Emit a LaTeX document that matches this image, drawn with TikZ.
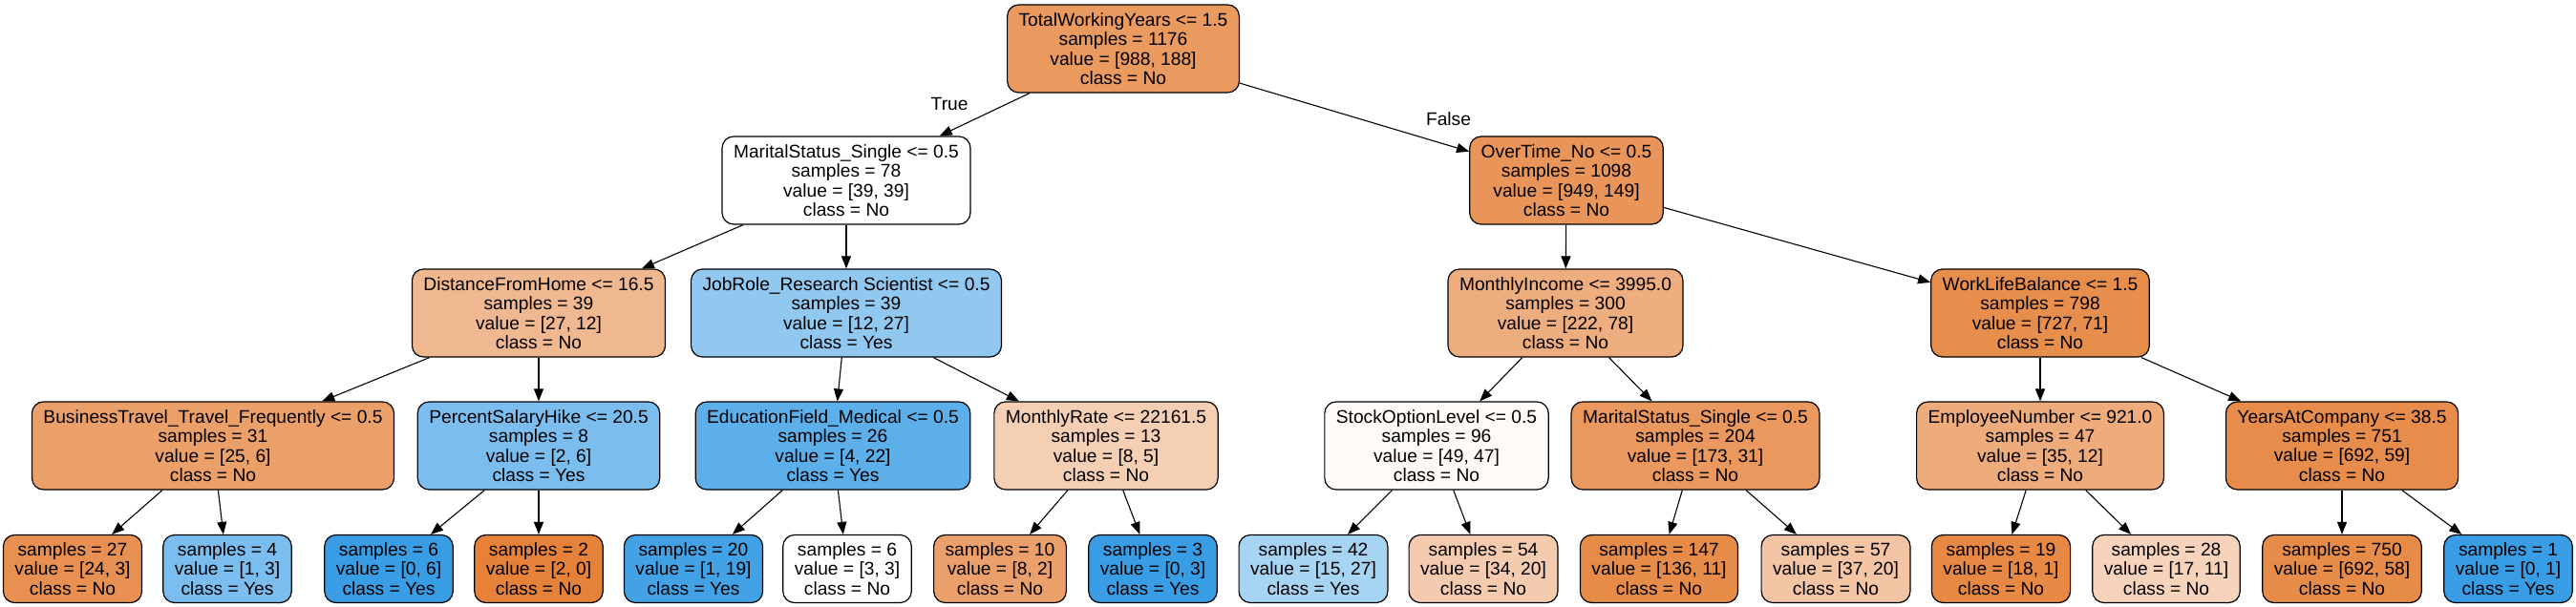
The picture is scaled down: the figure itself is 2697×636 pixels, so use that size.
\documentclass[tikz,border=0pt]{standalone}
\usepackage{fontspec}
\setmainfont{Liberation Sans}
\usetikzlibrary{arrows.meta}

\definecolor{clsno}{HTML}{E58139}
\definecolor{clsyes}{HTML}{399DE5}

\tikzset{
  split/.style={draw, rounded corners=12pt, line width=1.2pt, align=center,
    inner xsep=12pt, minimum height=92pt},
  leaf/.style={split, minimum height=71pt},
}

\begin{document}
\begin{tikzpicture}[x=1pt,y=-1pt,>={Triangle[length=13pt,width=10pt]},
    font=\fontsize{19.2}{20.3}\selectfont]
  \useasboundingbox (0,0) rectangle (2697,636);

  % root and first split
  \node[split, fill=clsno!81] (TWY) at (1176,51) {TotalWorkingYears <= 1.5\\samples = 1176\\value = [988, 188]\\class = No};
  \node[split, fill=white] (MS) at (886,189) {MaritalStatus\_Single <= 0.5\\samples = 78\\value = [39, 39]\\class = No};
  \node[split, fill=clsno!84] (OT) at (1640,189) {OverTime\_No <= 0.5\\samples = 1098\\value = [949, 149]\\class = No};

  % depth 2
  \node[split, fill=clsno!56] (DFH) at (564,328) {DistanceFromHome <= 16.5\\samples = 39\\value = [27, 12]\\class = No};
  \node[split, fill=clsyes!56] (JR) at (886,328) {JobRole\_Research Scientist <= 0.5\\samples = 39\\value = [12, 27]\\class = Yes};
  \node[split, fill=clsno!65] (MI) at (1639,328) {MonthlyIncome <= 3995.0\\samples = 300\\value = [222, 78]\\class = No};
  \node[split, fill=clsno!90] (WLB) at (2136,328) {WorkLifeBalance <= 1.5\\samples = 798\\value = [727, 71]\\class = No};

  % depth 3
  \node[split, fill=clsno!76] (BT) at (223,467) {BusinessTravel\_Travel\_Frequently <= 0.5\\samples = 31\\value = [25, 6]\\class = No};
  \node[split, fill=clsyes!67] (PSH) at (564,467) {PercentSalaryHike <= 20.5\\samples = 8\\value = [2, 6]\\class = Yes};
  \node[split, fill=clsyes!82] (EFM) at (872,467) {EducationField\_Medical <= 0.5\\samples = 26\\value = [4, 22]\\class = Yes};
  \node[split, fill=clsno!38] (MR) at (1158,467) {MonthlyRate <= 22161.5\\samples = 13\\value = [8, 5]\\class = No};
  \node[split, fill=clsno!4] (SOL) at (1504,467) {StockOptionLevel <= 0.5\\samples = 96\\value = [49, 47]\\class = No};
  \node[split, fill=clsno!82] (MSB) at (1775,467) {MaritalStatus\_Single <= 0.5\\samples = 204\\value = [173, 31]\\class = No};
  \node[split, fill=clsno!66] (EN) at (2136,467) {EmployeeNumber <= 921.0\\samples = 47\\value = [35, 12]\\class = No};
  \node[split, fill=clsno!91] (YAC) at (2452,467) {YearsAtCompany <= 38.5\\samples = 751\\value = [692, 59]\\class = No};

  % leaves
  \node[leaf, fill=clsno!88] (L1) at (76,596) {samples = 27\\value = [24, 3]\\class = No};
  \node[leaf, fill=clsyes!67] (L2) at (238,596) {samples = 4\\value = [1, 3]\\class = Yes};
  \node[leaf, fill=clsyes] (L3) at (407,596) {samples = 6\\value = [0, 6]\\class = Yes};
  \node[leaf, fill=clsno] (L4) at (564,596) {samples = 2\\value = [2, 0]\\class = No};
  \node[leaf, fill=clsyes!95] (L5) at (726,596) {samples = 20\\value = [1, 19]\\class = Yes};
  \node[leaf, fill=white] (L6) at (887,596) {samples = 6\\value = [3, 3]\\class = No};
  \node[leaf, fill=clsno!75] (L7) at (1047,596) {samples = 10\\value = [8, 2]\\class = No};
  \node[leaf, fill=clsyes] (L8) at (1207,596) {samples = 3\\value = [0, 3]\\class = Yes};
  \node[leaf, fill=clsyes!44] (L9) at (1375,596) {samples = 42\\value = [15, 27]\\class = Yes};
  \node[leaf, fill=clsno!41] (L10) at (1553,596) {samples = 54\\value = [34, 20]\\class = No};
  \node[leaf, fill=clsno!92] (L11) at (1737,596) {samples = 147\\value = [136, 11]\\class = No};
  \node[leaf, fill=clsno!46] (L12) at (1922,596) {samples = 57\\value = [37, 20]\\class = No};
  \node[leaf, fill=clsno!94] (L13) at (2095,596) {samples = 19\\value = [18, 1]\\class = No};
  \node[leaf, fill=clsno!35] (L14) at (2268,596) {samples = 28\\value = [17, 11]\\class = No};
  \node[leaf, fill=clsno!92] (L15) at (2452,596) {samples = 750\\value = [692, 58]\\class = No};
  \node[leaf, fill=clsyes] (L16) at (2626,596) {samples = 1\\value = [0, 1]\\class = Yes};

  \path[->, line width=1.1pt]
    (TWY) edge node[pos=0.89, yshift=28pt] {True} (MS)
          edge node[pos=0.91, yshift=28pt] {False} (OT)
    (MS)  edge (DFH)
          edge (JR)
    (OT)  edge (MI)
          edge (WLB)
    (DFH) edge (BT)
          edge (PSH)
    (JR)  edge (EFM)
          edge (MR)
    (MI)  edge (SOL)
          edge (MSB)
    (WLB) edge (EN)
          edge (YAC)
    (BT)  edge (L1)
          edge (L2)
    (PSH) edge (L3)
          edge (L4)
    (EFM) edge (L5)
          edge (L6)
    (MR)  edge (L7)
          edge (L8)
    (SOL) edge (L9)
          edge (L10)
    (MSB) edge (L11)
          edge (L12)
    (EN)  edge (L13)
          edge (L14)
    (YAC) edge (L15)
          edge (L16)
    ;
\end{tikzpicture}
\end{document}
